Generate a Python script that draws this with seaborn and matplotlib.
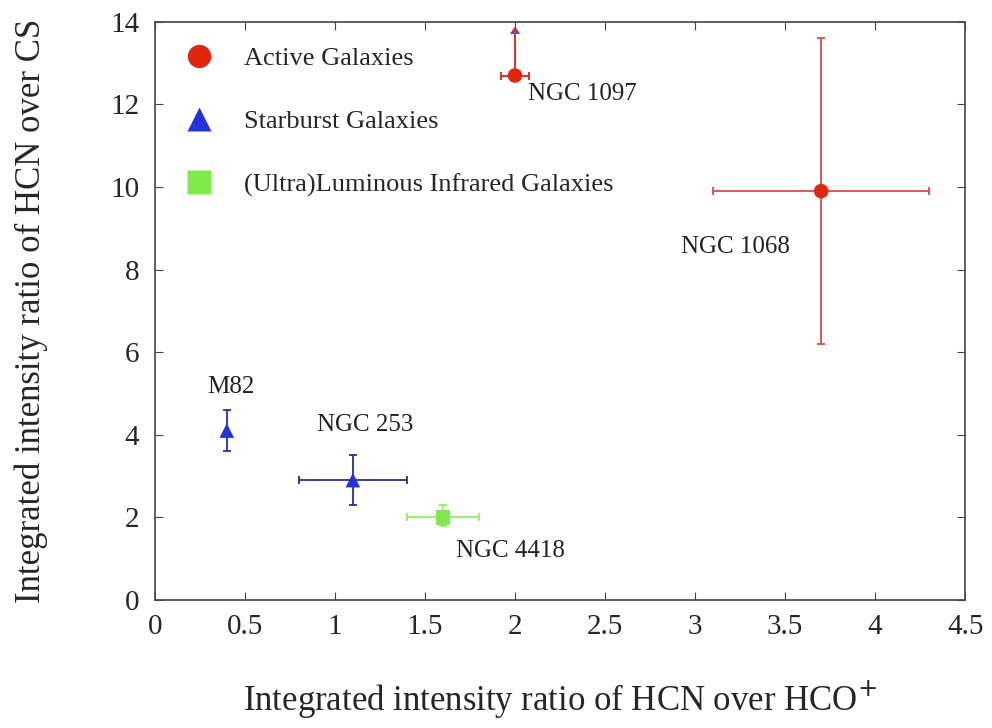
import matplotlib
matplotlib.use("Agg")
import matplotlib.pyplot as plt
import seaborn as sns
import pandas as pd

# values
names = ["NGC 1097", "NGC 1068", "M82", "NGC 253", "NGC 4418"]
groups = ["Active Galaxies", "Active Galaxies", "Starburst Galaxies",
          "Starburst Galaxies", "(Ultra)Luminous Infrared Galaxies"]
hcn_hco = [2.0, 3.7, 0.4, 1.1, 1.6]
hcn_cs = [12.7, 9.9, 4.1, 2.9, 2.0]
x_lo = [0.08, 0.6, 0.0, 0.3, 0.2]
x_hi = [0.08, 0.6, 0.0, 0.3, 0.2]
y_lo = [0.0, 3.7, 0.5, 0.6, 0.2]
y_hi = [1.0, 3.7, 0.5, 0.6, 0.3]
label_x = [2.07, 2.92, 0.29, 0.9, 1.67]
label_y = [12.1, 8.4, 5.0, 4.1, 1.05]

df = pd.DataFrame({"name": names, "group": groups, "x": hcn_hco, "y": hcn_cs})

palette = {"Active Galaxies": "#e0260f",
           "Starburst Galaxies": "#2233dd",
           "(Ultra)Luminous Infrared Galaxies": "#80ea4c"}
markers = {"Active Galaxies": "o",
           "Starburst Galaxies": "^",
           "(Ultra)Luminous Infrared Galaxies": "s"}
bar_colors = ["#d8221a", "#e0484a", "#2a2ab8", "#2a2a9a", "#90f060"]

sns.set_style("ticks")
plt.rcParams["font.family"] = ["Liberation Serif", "DejaVu Serif"]

fig = plt.figure(figsize=(9.92, 7.28), dpi=100)
ax = fig.add_axes([0.156, 0.176, 0.817, 0.794])

# error bars
for i in range(len(names)):
    ax.errorbar(hcn_hco[i], hcn_cs[i],
                xerr=[[x_lo[i]], [x_hi[i]]] if x_hi[i] > 0 else None,
                yerr=[[y_lo[i]], [y_hi[i]]],
                lolims=(i == 0), fmt="none", ecolor=bar_colors[i],
                elinewidth=1.3, capsize=3, capthick=1.3, zorder=2)

sns.scatterplot(data=df, x="x", y="y", hue="group", style="group",
                palette=palette, markers=markers, s=110, edgecolor="none",
                ax=ax, zorder=3)

for i in range(len(names)):
    ax.text(label_x[i], label_y[i], names[i], fontsize=18, color="#222222")

ax.set_xlim(0, 4.5)
ax.set_ylim(0, 14)
ax.set_xticks([0, 0.5, 1, 1.5, 2, 2.5, 3, 3.5, 4, 4.5])
ax.set_xticklabels(["0", "0.5", "1", "1.5", "2", "2.5", "3", "3.5", "4", "4.5"])
ax.set_yticks(range(0, 15, 2))
ax.tick_params(direction="in", top=True, right=True, length=6, labelsize=21,
               color="#444444")
ax.tick_params(axis="x", pad=10)
ax.tick_params(axis="y", pad=11)
for s in ax.spines.values():
    s.set_color("#444444")
    s.set_linewidth(1.2)

ax.set_xlabel("Integrated intensity ratio of HCN over HCO$^{+}$", fontsize=25)
ax.set_ylabel("Integrated intensity ratio of HCN over CS", fontsize=25)
ax.xaxis.set_label_coords(0.5, -0.135)
ax.yaxis.set_label_coords(-0.132, 0.5)

leg = ax.legend(loc="upper left", frameon=False, fontsize=19, markerscale=1.6,
                handletextpad=0.72, labelspacing=1.5, borderaxespad=0.55,
                bbox_to_anchor=(-0.009, 1.0))

fig.savefig("out.png", dpi=100)
